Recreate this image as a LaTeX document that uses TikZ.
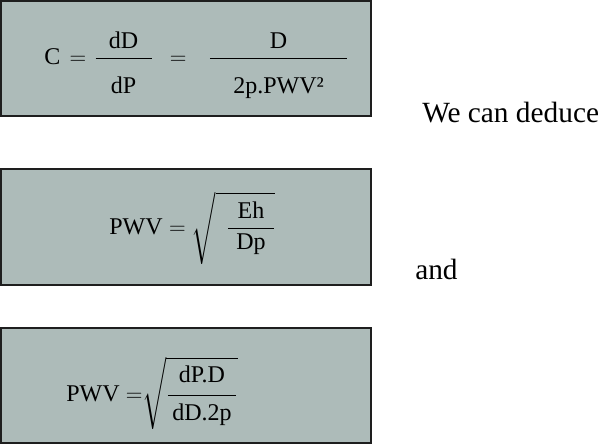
\documentclass[tikz,border=0pt]{standalone}
\usepackage{amsmath}
\usepackage{amssymb}
\usepackage{xcolor}
\usepackage{fontspec}
\setmainfont{Liberation Serif}
\usepackage{tikz}

\begin{document}
\begin{tikzpicture}[x=0.75pt,y=0.75pt,yscale=-1,xscale=1]
\useasboundingbox (0,0) rectangle (600,444);

%Shape: Rectangle [id:box1] 
\draw  [color={rgb, 255:red, 30; green, 30; blue, 30 }  ,draw opacity=1 ][fill={rgb, 255:red, 173; green, 187; blue, 185 }  ,fill opacity=1 ][line width=1.1]  (1,1) rectangle (371,116) ;
%Shape: Rectangle [id:box2] 
\draw  [color={rgb, 255:red, 30; green, 30; blue, 30 }  ,draw opacity=1 ][fill={rgb, 255:red, 173; green, 187; blue, 185 }  ,fill opacity=1 ][line width=1.1]  (1,169) rectangle (371,285) ;
%Shape: Rectangle [id:box3] 
\draw  [color={rgb, 255:red, 30; green, 30; blue, 30 }  ,draw opacity=1 ][fill={rgb, 255:red, 173; green, 187; blue, 185 }  ,fill opacity=1 ][line width=1.1]  (1,328) rectangle (371,443) ;

% Text Node
\draw (44,64) node (compl) [anchor=base west][inner sep=0pt]  [font=\fontsize{18}{22}\selectfont]  {$\text{C}\hspace{2.25pt} = \hspace{1pt}\dfrac{\makebox[42pt]{dD}}{\raisebox{-10pt}{dP}}\hspace{7.8pt}=\hspace{11.5pt}\dfrac{\text{D}}{\raisebox{-10pt}{\makebox[103pt]{2p.PWV²}}}$};
% Text Node
\draw (109,234) node (pwva) [anchor=base west][inner sep=0pt]  [font=\fontsize{18}{22}\selectfont]  {$\text{PWV} = \sqrt{\rule[-21pt]{0pt}{48pt}\hspace{8pt}\dfrac{\makebox[34pt]{Eh}}{\text{Dp}}}$};
% Text Node
\draw (66,401) node (pwvb) [anchor=base west][inner sep=0pt]  [font=\fontsize{18}{22}\selectfont]  {$\text{PWV} =\hspace{-5pt}\sqrt{\rule[-21pt]{0pt}{51pt}\dfrac{\raisebox{2pt}{dP.D}}{\raisebox{-3pt}{\makebox[51pt]{dD.2p}}}}$};
% Text Node
\draw (422,122) node (deduce) [anchor=base west][inner sep=0pt]  [font=\fontsize{22}{26}\selectfont]  {We can deduce};
% Text Node
\draw (415,279) node (and) [anchor=base west][inner sep=0pt]  [font=\fontsize{22}{26}\selectfont]  {and};
\end{tikzpicture}
\end{document}
